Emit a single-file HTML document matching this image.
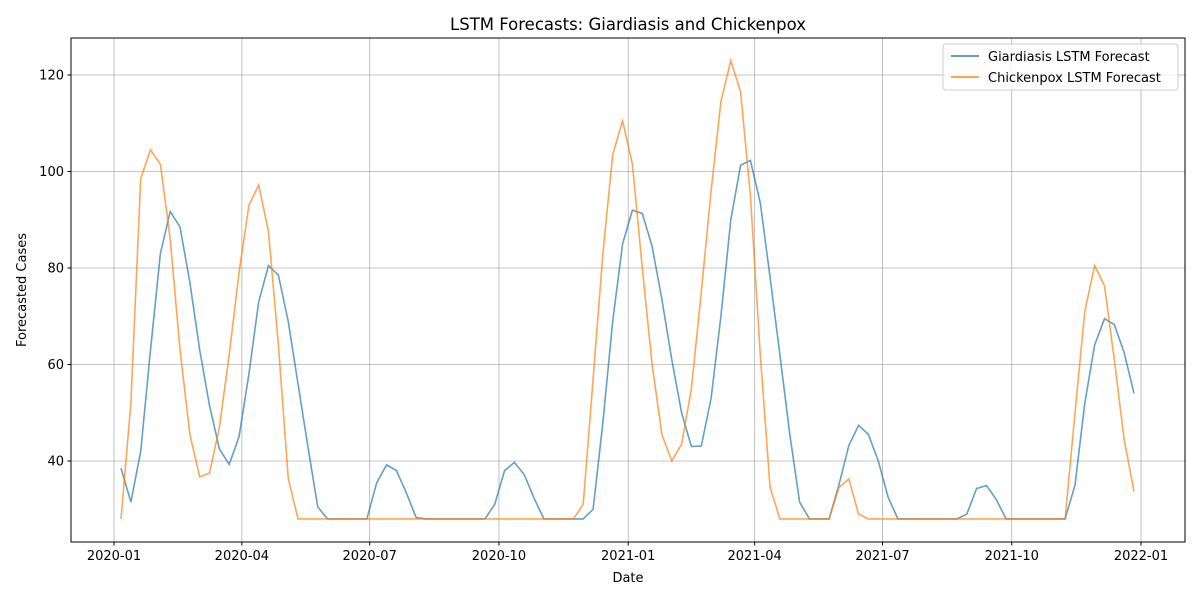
<!DOCTYPE html>
<html><head><meta charset="utf-8"><style>
body{margin:0;background:#fff}
svg{font-family:"DejaVu Sans","Liberation Sans",sans-serif}
</style></head><body>
<svg id="chart" width="1200" height="600" xmlns="http://www.w3.org/2000/svg">
<rect width="1200" height="600" fill="#fff"/>
<text x="628" y="30" font-size="16.5" text-anchor="middle">LSTM Forecasts: Giardiasis and Chickenpox</text>
<g id="grid"></g>
<g id="series"></g>
<rect x="71" y="38" width="1114" height="504" fill="none" stroke="#000" stroke-width="1"/>
<g id="ticks"></g>
<text x="628" y="582" font-size="13" text-anchor="middle">Date</text>
<text x="26" y="290" font-size="13" text-anchor="middle" transform="rotate(-90 26 290)">Forecasted Cases</text>
<g>
<rect x="943" y="44" width="235" height="46" rx="3" fill="#fff" fill-opacity="0.8" stroke="#ccc"/>
<line x1="951" y1="56" x2="979" y2="56" stroke="#1f77b4" stroke-opacity="0.7" stroke-width="2"/>
<text x="988" y="61" font-size="13">Giardiasis LSTM Forecast</text>
<line x1="951" y1="77" x2="979" y2="77" stroke="#ff7f0e" stroke-opacity="0.7" stroke-width="2"/>
<text x="988" y="82" font-size="13">Chickenpox LSTM Forecast</text>
</g>
</svg>
<script>
const startDate = "2020-01-06";
const xTickLabels = ["2020-01","2020-04","2020-07","2020-10","2021-01","2021-04","2021-07","2021-10","2022-01"];
const yTickValues = [40,60,80,100,120];
const giardiasis = [38.5,31.5,42,63,83,91.7,88.5,77,63,51.5,42.5,39.3,45,58,73,80.5,78.5,69,56,43,30.5,28,28,28,28,28,35.5,39.2,38,33.5,28.3,28,28,28,28,28,28,28,31,38,39.7,37.2,32.3,28,28,28,28,28,30,48,69,85,92,91.3,84.5,73.5,61,50,43,43.1,53,70,90,101.3,102.3,93.5,78,62,45.5,31.5,28,28,28,35,43.2,47.4,45.5,40,32.5,28,28,28,28,28,28,28,29,34.3,34.9,32,28,28,28,28,28,28,28,35,52,64,69.5,68.3,62.5,54];
const chickenpox = [28,52,98.5,104.5,101.5,86,63,45.5,36.7,37.5,47,62,79,93,97.2,87.5,64,36.5,28,28,28,28,28,28,28,28,28,28,28,28,28,28,28,28,28,28,28,28,28,28,28,28,28,28,28,28,28,31,57,83,103.5,110.5,101.5,80,60,45.5,40,43.5,55,75,96,114.5,123,116.5,95,62,34.5,28,28,28,28,28,28,34.5,36.3,29,28,28,28,28,28,28,28,28,28,28,28,28,28,28,28,28,28,28,28,28,28,50,71,80.5,76.3,61,44.5,33.7];

const NS="http://www.w3.org/2000/svg";
const t0=Date.UTC(2020,0,1), DAY=86400000;
function xDate(ms){return 114+(ms-t0)/DAY*(1027/731);}
function y(v){return 461-(v-40)*(386/80);}
function parse(s){const p=s.split("-").map(Number);return Date.UTC(p[0],p[1]-1,p[2]||1);}
const grid=document.getElementById("grid"),ticks=document.getElementById("ticks"),ser=document.getElementById("series");
function mk(tag,attrs,parent){const e=document.createElementNS(NS,tag);for(const k in attrs)e.setAttribute(k,attrs[k]);parent.appendChild(e);return e;}
xTickLabels.forEach(l=>{
  const x=xDate(parse(l));
  const g=mk("line",{x1:x,x2:x,y1:38,y2:542,stroke:"#b0b0b0","stroke-width":0.8},grid);
  
  
  mk("line",{x1:x,x2:x,y1:542,y2:545.5,stroke:"#000"},ticks);
  const t=mk("text",{x:x,y:560,"font-size":13,"text-anchor":"middle"},ticks);
  t.textContent=l;
  
  
});
yTickValues.forEach(v=>{
  const yy=y(v);
  const g=mk("line",{x1:71,x2:1185,y1:yy,y2:yy,stroke:"#b0b0b0","stroke-width":0.8},grid);
  
  
  mk("line",{x1:67.5,x2:71,y1:yy,y2:yy,stroke:"#000"},ticks);
  const t=mk("text",{x:64,y:yy+4.5,"font-size":13,"text-anchor":"end"},ticks);
  t.textContent=v;
  
  
});
const s0=parse(startDate);
function draw(vals,color,name){
  const pts=vals.map((v,i)=>xDate(s0+i*7*DAY).toFixed(1)+","+y(v).toFixed(1)).join(" ");
  const p=mk("polyline",{points:pts,fill:"none",stroke:color,"stroke-opacity":0.7,"stroke-width":1.6},ser);
  
  
}
draw(giardiasis,"#1f77b4","giardiasis-line");
draw(chickenpox,"#ff7f0e","chickenpox-line");
</script>
</body></html>
